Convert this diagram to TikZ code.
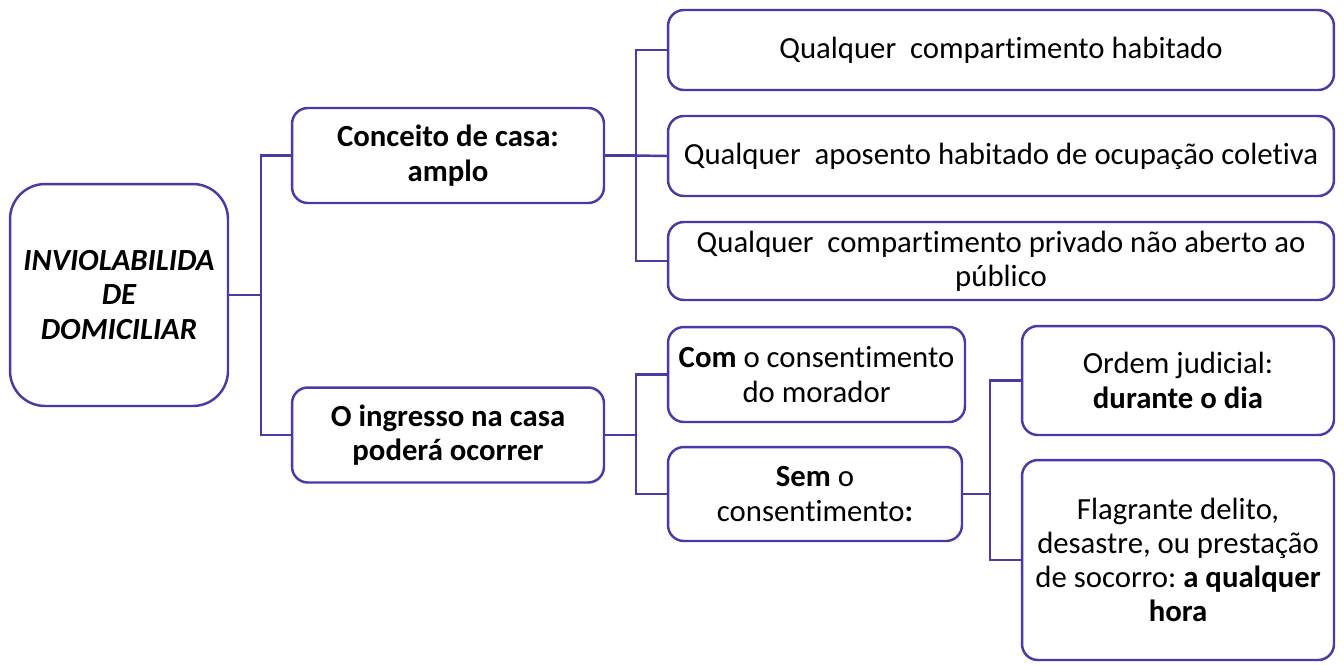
\documentclass[tikz,border=0pt]{standalone}
\usepackage{fontspec}
\setmainfont{Carlito}[Ligatures={NoCommon}]
\frenchspacing
\definecolor{purp}{HTML}{4B3AA6}
\tikzset{
  box/.style={draw=purp, line width=1.4pt, rounded corners=9pt, align=center, inner sep=0pt,
    font=\fontsize{17.5}{19.5}\selectfont},
  link/.style={draw=purp, line width=1.4pt},
}
\begin{document}
\begin{tikzpicture}[x=0.02cm, y=-0.02cm]
  \useasboundingbox (0,0) rectangle (1344,664);
  % main node
  \node (root) at (119,295) [box, rounded corners=20pt, minimum width=4.36cm, minimum height=4.44cm,
    font=\fontsize{17.5}{19.8}\selectfont\bfseries\itshape] {INVIOLABILIDA\\DE\\DOMICILIAR};
  % second level
  \node (conc) at (448,155.5) [box, minimum width=6.24cm, minimum height=1.9cm, font=\fontsize{17.5}{19.5}\selectfont\bfseries] {Conceito de casa:\\amplo};
  \node (ingr) at (448,435) [box, minimum width=6.24cm, minimum height=1.9cm, font=\fontsize{17.5}{19.5}\selectfont\bfseries] {O ingresso na casa\\poderá ocorrer};
  % conceito de casa
  \node (q1) at (1001,50) [box, minimum width=13.32cm, minimum height=1.6cm] {Qualquer\ \ compartimento habitado};
  \node (q2) at (1001,156) [box, minimum width=13.32cm, minimum height=1.6cm] {Qualquer\ \ aposento habitado de ocupação coletiva};
  \node (q3) at (1001,261) [box, minimum width=13.32cm, minimum height=1.56cm] {Qualquer\ \ compartimento privado não aberto ao\\público};
  % ingresso
  \node (com) at (816.5,374.5) [box, minimum width=5.94cm, minimum height=1.9cm] {\textbf{Com} o consentimento\\do morador};
  \node (sem) at (815,494) [box, minimum width=5.88cm, minimum height=1.88cm] {\textbf{Sem} o\\consentimento\textbf{:}};
  \node (ord) at (1178,380.5) [box, minimum width=6.24cm, minimum height=2.18cm] {Ordem judicial:\\\textbf{durante o dia}};
  \node (flag) at (1178,560) [box, minimum width=6.24cm, minimum height=4cm] {Flagrante delito,\\desastre, ou prestação\\de socorro: \textbf{a qualquer}\\\textbf{hora}};
  % junctions
  \coordinate (j1) at (261,295);
  \coordinate (j2) at (636,155.5);
  \coordinate (j3) at (636,435);
  \coordinate (j4) at (990,494);
  \draw[link] (root.east) -- (j1) |- (conc.west);
  \draw[link] (j1) |- (ingr.west);
  \draw[link] (conc.east) -- (j2) |- (q1.west);
  \draw[link] (j2) -- (q2.west);
  \draw[link] (j2) |- (q3.west);
  \draw[link] (ingr.east) -- (j3) |- (com.west);
  \draw[link] (j3) |- (sem.west);
  \draw[link] (sem.east) -- (j4) |- (ord.west);
  \draw[link] (j4) |- (flag.west);
\end{tikzpicture}
\end{document}
